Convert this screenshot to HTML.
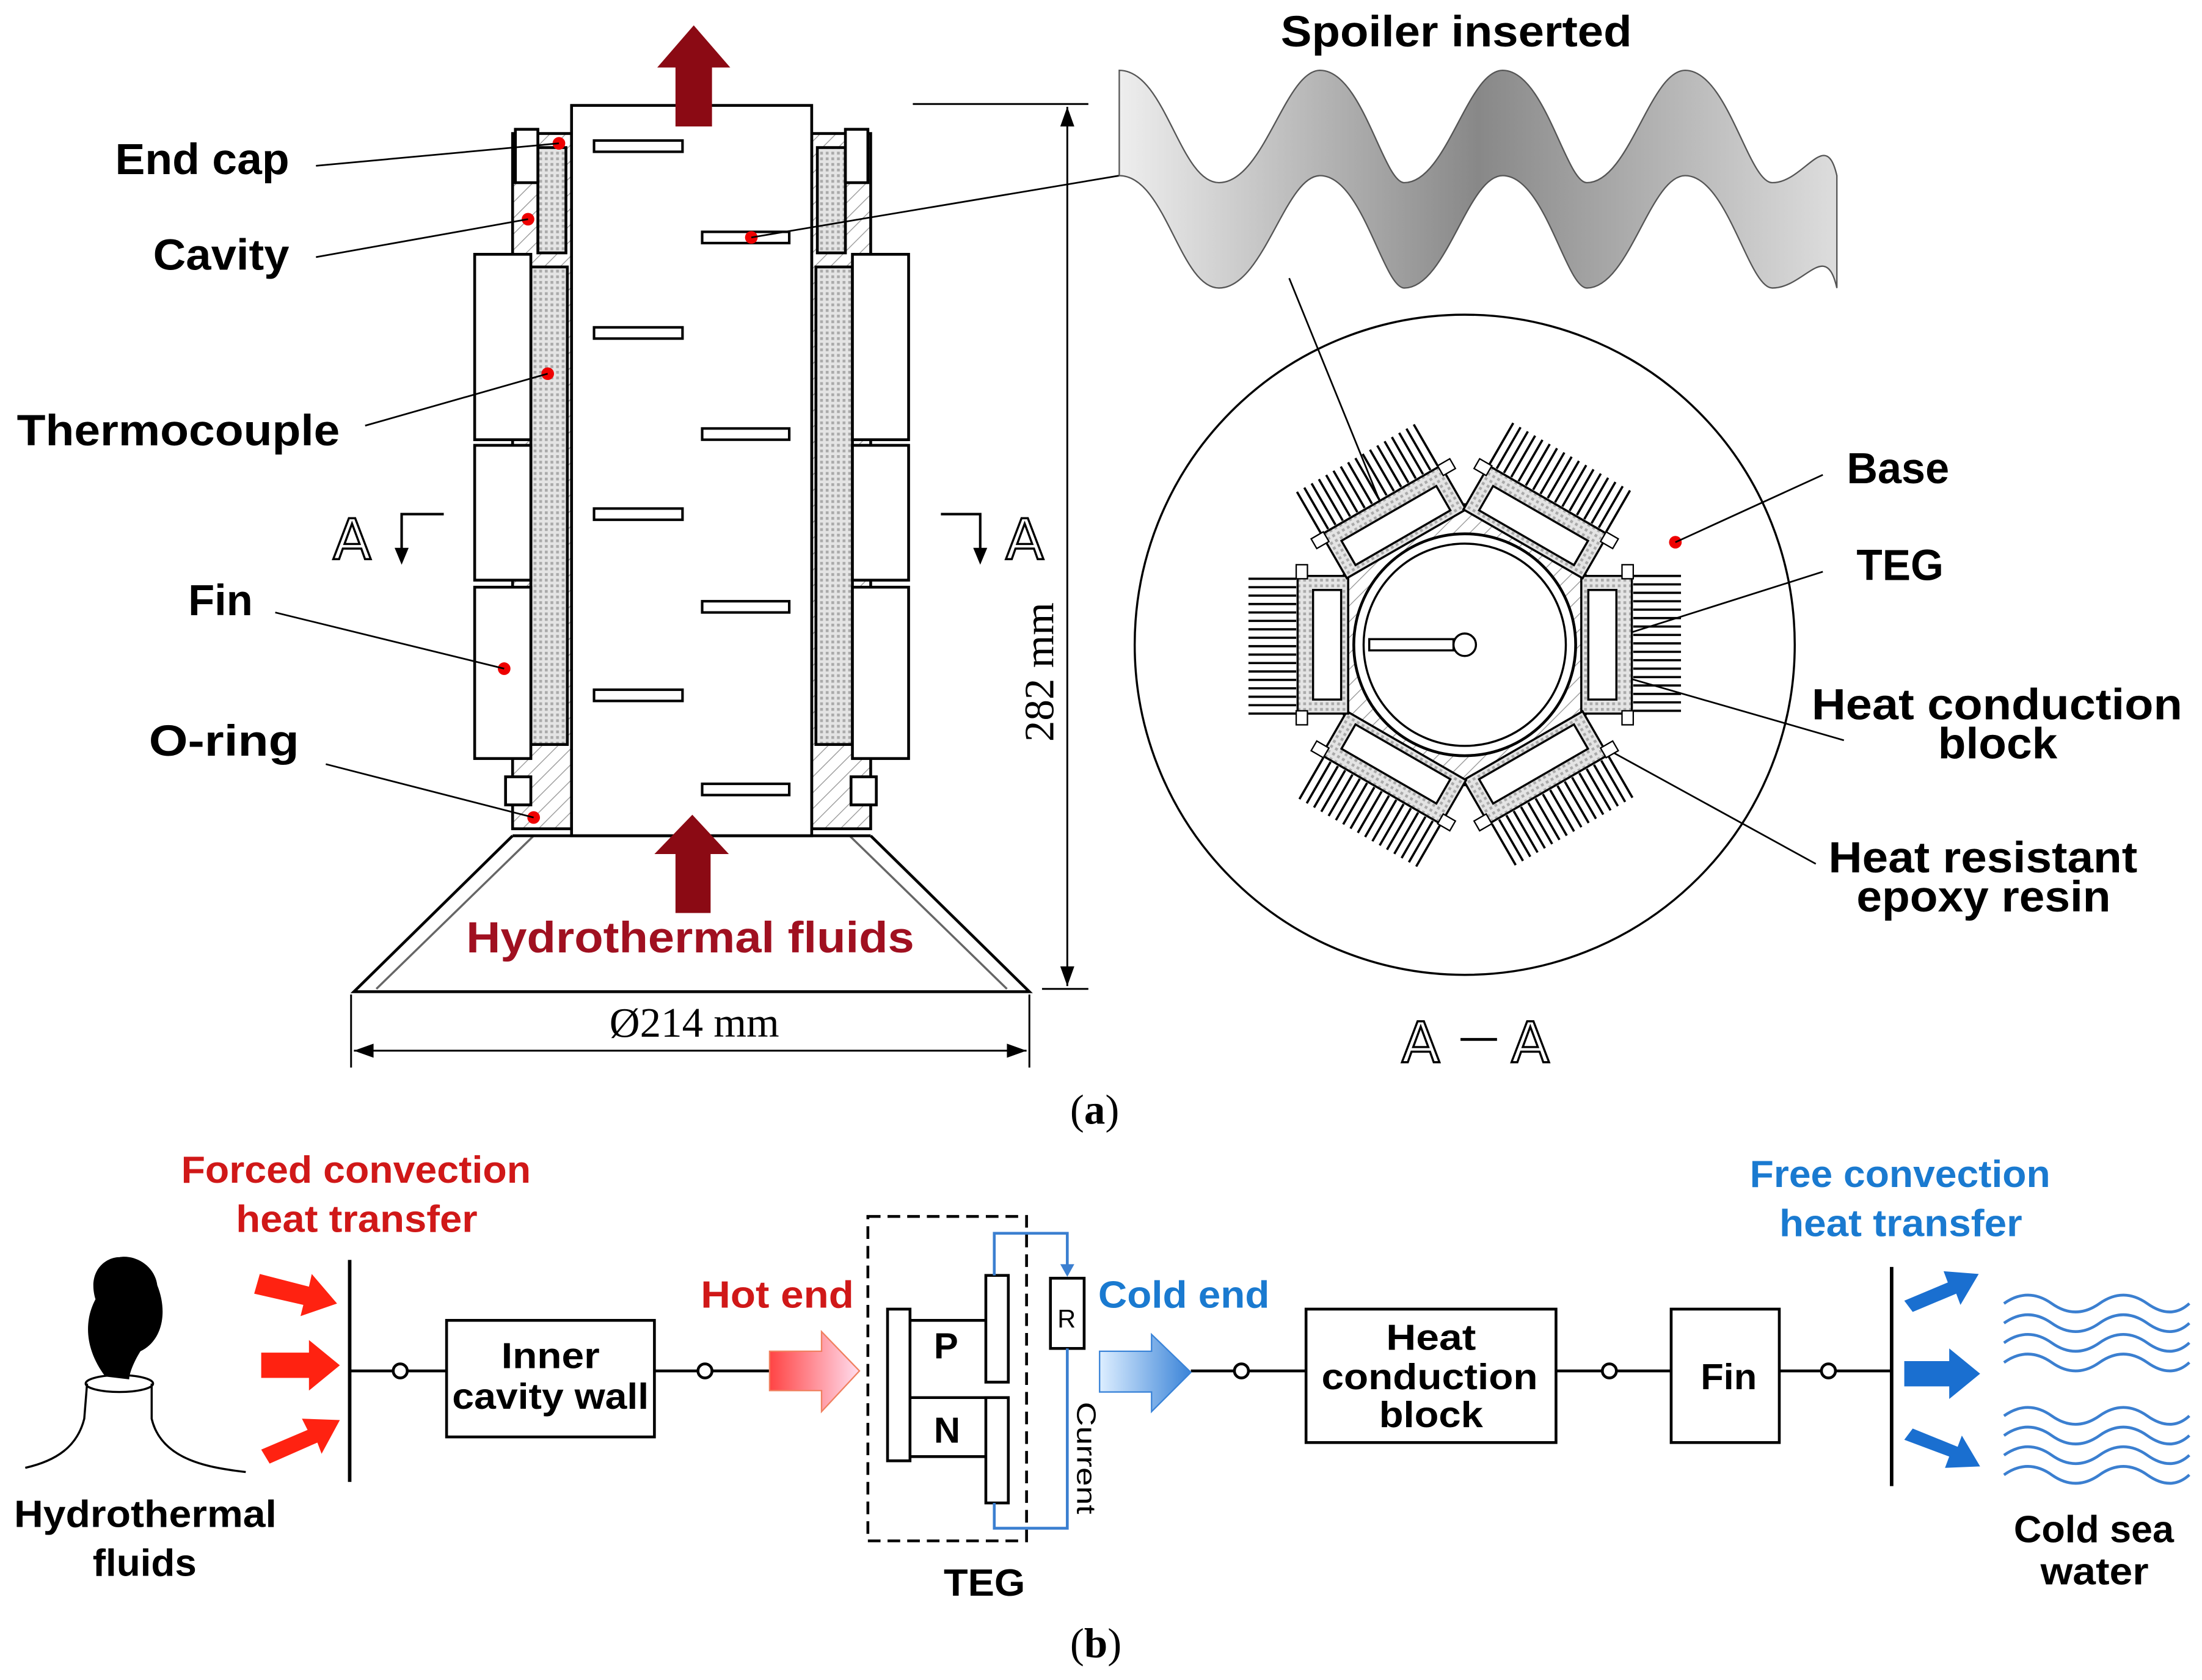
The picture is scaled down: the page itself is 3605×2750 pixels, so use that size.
<!DOCTYPE html>
<html><head><meta charset="utf-8"><style>html,body{margin:0;padding:0;background:#fff}svg{display:block}</style></head>
<body>
<svg width="3605" height="2750" viewBox="0 0 1568 1196" xmlns="http://www.w3.org/2000/svg" font-family="Liberation Sans, sans-serif">
<defs>
<pattern id="hatch" width="8" height="8" patternUnits="userSpaceOnUse" patternTransform="rotate(45)"><rect width="8" height="8" fill="#fff"/><line x1="0" y1="0" x2="0" y2="8" stroke="#999" stroke-width="1.2"/></pattern>
<pattern id="dots" width="4" height="4" patternUnits="userSpaceOnUse"><rect width="4" height="4" fill="#e4e4e4"/><rect width="2" height="2" fill="#aaa"/></pattern>
<linearGradient id="hot" x1="0" x2="1"><stop offset="0" stop-color="#f44"/><stop offset="1" stop-color="#fde"/></linearGradient>
<linearGradient id="cold" x1="0" x2="1"><stop offset="0" stop-color="#ddeeff"/><stop offset="1" stop-color="#3b84d8"/></linearGradient>
<linearGradient id="spo" x1="0" x2="1"><stop offset="0" stop-color="#eee"/><stop offset="0.5" stop-color="#888"/><stop offset="1" stop-color="#ddd"/></linearGradient>
</defs>

<g stroke="#000" stroke-width="2" fill="none">
<rect x="365" y="95" width="42" height="495" fill="url(#hatch)"/>
<rect x="578" y="95" width="42" height="495" fill="url(#hatch)"/>
<rect x="407" y="75" width="171" height="520" fill="#fff"/>
<rect x="383" y="105" width="20" height="75" fill="url(#dots)"/>
<rect x="582" y="105" width="20" height="75" fill="url(#dots)"/>
<rect x="378" y="190" width="26" height="340" fill="url(#dots)"/>
<rect x="581" y="190" width="26" height="340" fill="url(#dots)"/>
<rect x="338" y="181" width="40" height="132" fill="#fff"/>
<rect x="338" y="317" width="40" height="96" fill="#fff"/>
<rect x="338" y="418" width="40" height="122" fill="#fff"/>
<rect x="607" y="181" width="40" height="132" fill="#fff"/>
<rect x="607" y="317" width="40" height="96" fill="#fff"/>
<rect x="607" y="418" width="40" height="122" fill="#fff"/>
<rect x="367" y="92" width="16" height="38" fill="#fff"/>
<rect x="602" y="92" width="16" height="38" fill="#fff"/>
<rect x="360" y="553" width="18" height="20" fill="#fff"/>
<rect x="606" y="553" width="18" height="20" fill="#fff"/>
<g stroke-width="1.8">
<rect x="423" y="100" width="63" height="8"/><rect x="423" y="233" width="63" height="8"/><rect x="423" y="362" width="63" height="8"/><rect x="423" y="491" width="63" height="8"/>
<rect x="500" y="165" width="62" height="8"/><rect x="500" y="305" width="62" height="8"/><rect x="500" y="428" width="62" height="8"/><rect x="500" y="558" width="62" height="8"/>
</g>
<path d="M365 595 L252 706 L733 706 L620 595" stroke-width="2"/>
<path d="M380 595 L268 704 M605 595 L717 704" stroke="#666" stroke-width="1.5"/>
<line x1="365" y1="595" x2="620" y2="595"/>
</g>
<path d="M481 90 V48 H468 L494 18 L520 48 H507 V90 Z" fill="#8b0a14"/>
<path d="M481 650 V608 H466 L493 580 L519 608 H506 V650 Z" fill="#8b0a14"/>
<g fill="#e00"><circle cx="398" cy="102" r="4.5"/><circle cx="376" cy="156" r="4.5"/><circle cx="390" cy="266" r="4.5"/><circle cx="359" cy="476" r="4.5"/><circle cx="380" cy="582" r="4.5"/><circle cx="535" cy="169" r="4.5"/>
<circle cx="1193" cy="386" r="4.5"/><circle cx="1137" cy="458" r="4.5"/><circle cx="1150" cy="480" r="4.5"/><circle cx="1131" cy="526" r="4.5"/><circle cx="1009" cy="422" r="4.5"/></g>
<g stroke="#000" stroke-width="1.2">
<line x1="225" y1="118" x2="398" y2="102"/><line x1="225" y1="183" x2="376" y2="156"/><line x1="260" y1="303" x2="390" y2="266"/><line x1="196" y1="436" x2="359" y2="476"/><line x1="232" y1="544" x2="380" y2="582"/>
<line x1="535" y1="169" x2="797" y2="125"/><line x1="918" y1="198" x2="1009" y2="422"/>
<line x1="1193" y1="386" x2="1298" y2="338"/><line x1="1137" y1="458" x2="1298" y2="407"/><line x1="1150" y1="480" x2="1313" y2="527"/><line x1="1131" y1="526" x2="1293" y2="615"/>
</g>
<g font-size="31" fill="#000" font-weight="bold" lengthAdjust="spacingAndGlyphs">
<text x="82" y="124" textLength="124" lengthAdjust="spacingAndGlyphs">End cap</text><text x="109" y="192" textLength="97" lengthAdjust="spacingAndGlyphs">Cavity</text><text x="12" y="317" textLength="230" lengthAdjust="spacingAndGlyphs">Thermocouple</text><text x="134" y="438" textLength="46" lengthAdjust="spacingAndGlyphs">Fin</text><text x="106" y="538" textLength="107" lengthAdjust="spacingAndGlyphs">O-ring</text>
<text x="912" y="33" textLength="250" lengthAdjust="spacingAndGlyphs">Spoiler inserted</text>
<text x="1315" y="344" textLength="73" lengthAdjust="spacingAndGlyphs">Base</text><text x="1322" y="413" textLength="62" lengthAdjust="spacingAndGlyphs">TEG</text>
<text x="1290" y="512" textLength="264" lengthAdjust="spacingAndGlyphs">Heat conduction</text><text x="1380" y="540" textLength="85" lengthAdjust="spacingAndGlyphs">block</text>
<text x="1302" y="621" textLength="220" lengthAdjust="spacingAndGlyphs">Heat resistant</text><text x="1322" y="649" textLength="181" lengthAdjust="spacingAndGlyphs">epoxy resin</text>
<text x="332" y="678" fill="#a01020" textLength="319" lengthAdjust="spacingAndGlyphs">Hydrothermal fluids</text>
</g>
<g font-size="40"><text x="237" y="398" font-family="DejaVu Sans" fill="none" stroke="#000" stroke-width="1.5">A</text><text x="716" y="398" font-family="DejaVu Sans" fill="none" stroke="#000" stroke-width="1.5">A</text>
<text x="998" y="756" font-family="DejaVu Sans" fill="none" stroke="#000" stroke-width="1.5">A</text><text x="1076" y="756" font-family="DejaVu Sans" fill="none" stroke="#000" stroke-width="1.5">A</text></g>
<line x1="1040" y1="740" x2="1066" y2="740" stroke="#000" stroke-width="2"/>
<g stroke="#000" stroke-width="1.8" fill="none"><path d="M316 366 H286 V392"/><path d="M670 366 H698 V392"/></g>
<path d="M281 390 L291 390 L286 402Z M693 390 L703 390 L698 402Z"/>
<g stroke="#000" stroke-width="1.3"><line x1="650" y1="74" x2="775" y2="74"/><line x1="742" y1="704" x2="775" y2="704"/><line x1="760" y1="76" x2="760" y2="702"/>
<line x1="250" y1="708" x2="250" y2="760"/><line x1="733" y1="708" x2="733" y2="760"/><line x1="252" y1="748" x2="731" y2="748"/></g>
<path d="M760 76 l-5 14 h10z M760 702 l-5 -14 h10z M252 748 l14 -5 v10z M731 748 l-14 -5 v10z"/>
<text x="0" y="0" font-family="Liberation Serif, serif" font-size="30" transform="translate(750 528) rotate(-90)">282 mm</text>
<text x="434" y="738" font-family="Liberation Serif, serif" font-size="30">Ø214 mm</text>
<text x="762" y="800" font-family="Liberation Serif, serif" font-size="30">(<tspan font-weight="bold">a</tspan>)</text>
<text x="762" y="1180" font-family="Liberation Serif, serif" font-size="30">(<tspan font-weight="bold">b</tspan>)</text>
<path d="M797 50 C830 50 840 130 868 130 C900 130 915 50 940 50 C970 50 985 130 1000 130 C1030 130 1045 50 1070 50 C1100 50 1115 130 1130 130 C1160 130 1175 50 1200 50 C1230 50 1245 130 1262 130 C1285 130 1300 90 1308 125 L1308 205 C1300 170 1285 205 1262 205 C1245 205 1230 125 1200 125 C1175 125 1160 205 1130 205 C1115 205 1100 125 1070 125 C1045 125 1030 205 1000 205 C985 205 970 125 940 125 C915 125 900 205 868 205 C840 205 830 125 797 125 Z" fill="url(#spo)" stroke="#555" stroke-width="1"/>
<circle cx="1043" cy="459" r="235" fill="none" stroke="#000" stroke-width="1.5"/>
<polygon points="1158,459 1100,559 986,559 928,459 986,359 1100,359" fill="url(#hatch)" stroke="#000" stroke-width="1.5"/>
<g id="mod">
<g stroke="#000" stroke-width="1.6">
<line x1="1163" y1="410" x2="1197" y2="410"/><line x1="1163" y1="416" x2="1197" y2="416"/><line x1="1163" y1="422" x2="1197" y2="422"/><line x1="1163" y1="428" x2="1197" y2="428"/><line x1="1163" y1="434" x2="1197" y2="434"/><line x1="1163" y1="440" x2="1197" y2="440"/><line x1="1163" y1="446" x2="1197" y2="446"/><line x1="1163" y1="452" x2="1197" y2="452"/><line x1="1163" y1="458" x2="1197" y2="458"/><line x1="1163" y1="464" x2="1197" y2="464"/><line x1="1163" y1="470" x2="1197" y2="470"/><line x1="1163" y1="476" x2="1197" y2="476"/><line x1="1163" y1="482" x2="1197" y2="482"/><line x1="1163" y1="488" x2="1197" y2="488"/><line x1="1163" y1="494" x2="1197" y2="494"/><line x1="1163" y1="500" x2="1197" y2="500"/><line x1="1163" y1="506" x2="1197" y2="506"/>
</g>
<rect x="1126" y="410" width="36" height="98" fill="url(#dots)" stroke="#000" stroke-width="1.5"/>
<rect x="1131" y="420" width="20" height="78" fill="#fff" stroke="#000" stroke-width="1.5"/>
<rect x="1155" y="402" width="8" height="10" fill="#fff" stroke="#000"/><rect x="1155" y="506" width="8" height="10" fill="#fff" stroke="#000"/>
</g>
<use href="#mod" transform="rotate(60 1043 459)"/><use href="#mod" transform="rotate(120 1043 459)"/><use href="#mod" transform="rotate(180 1043 459)"/><use href="#mod" transform="rotate(240 1043 459)"/><use href="#mod" transform="rotate(300 1043 459)"/>
<circle cx="1043" cy="459" r="79" fill="#fff" stroke="#000" stroke-width="2"/>
<circle cx="1043" cy="459" r="72" fill="#fff" stroke="#000" stroke-width="1.5"/>
<rect x="975" y="455" width="60" height="8" fill="#fff" stroke="#000" stroke-width="1.5"/>
<circle cx="1043" cy="459" r="8" fill="#fff" stroke="#000" stroke-width="1.5"/>

<g font-size="27" font-weight="bold">
<text x="129" y="842" fill="#d01818" textLength="249" lengthAdjust="spacingAndGlyphs">Forced convection</text><text x="168" y="877" fill="#d01818" textLength="172" lengthAdjust="spacingAndGlyphs">heat transfer</text>
<text x="499" y="931" fill="#d01818" textLength="109" lengthAdjust="spacingAndGlyphs">Hot end</text>
<text x="782" y="931" fill="#1a7ad0" textLength="122" lengthAdjust="spacingAndGlyphs">Cold end</text>
<text x="1246" y="845" fill="#1a7ad0" textLength="214" lengthAdjust="spacingAndGlyphs">Free convection</text><text x="1267" y="880" fill="#1a7ad0" textLength="173" lengthAdjust="spacingAndGlyphs">heat transfer</text>
<text x="10" y="1087" textLength="187" lengthAdjust="spacingAndGlyphs">Hydrothermal</text><text x="66" y="1122" textLength="74" lengthAdjust="spacingAndGlyphs">fluids</text>
<text x="1434" y="1098" textLength="114" lengthAdjust="spacingAndGlyphs">Cold sea</text><text x="1453" y="1128" textLength="77" lengthAdjust="spacingAndGlyphs">water</text>
<text x="672" y="1136" textLength="58" lengthAdjust="spacingAndGlyphs">TEG</text>
</g>
<g stroke="#000" stroke-width="2" fill="#fff">
<line x1="249" y1="976" x2="318" y2="976"/><line x1="466" y1="976" x2="548" y2="976"/><line x1="848" y1="976" x2="930" y2="976"/><line x1="1108" y1="976" x2="1190" y2="976"/><line x1="1267" y1="976" x2="1347" y2="976"/>
<line x1="249" y1="897" x2="249" y2="1055" stroke-width="2.5"/><line x1="1347" y1="902" x2="1347" y2="1058" stroke-width="2.5"/>
<rect x="318" y="940" width="148" height="83"/><rect x="930" y="932" width="178" height="95"/><rect x="1190" y="932" width="77" height="95"/>
<circle cx="285" cy="976" r="5"/><circle cx="502" cy="976" r="5"/><circle cx="884" cy="976" r="5"/><circle cx="1146" cy="976" r="5"/><circle cx="1302" cy="976" r="5"/>
<rect x="618" y="866" width="113" height="231" fill="none" stroke-dasharray="9 5"/>
<rect x="632" y="932" width="16" height="108"/><rect x="702" y="908" width="16" height="76"/><rect x="702" y="995" width="16" height="75"/>
<line x1="648" y1="940" x2="702" y2="940"/><line x1="648" y1="995" x2="702" y2="995"/><line x1="648" y1="1037" x2="702" y2="1037"/>
<rect x="748" y="910" width="24" height="50"/>
</g>
<g stroke="#3b7fd0" stroke-width="2" fill="none"><path d="M708 908 V878 H760 V906"/><path d="M760 960 V1088 H708 V1070"/></g>
<path d="M755 900 h10 l-5 9z" fill="#3b7fd0"/>
<g font-size="26" font-weight="bold"><text x="357" y="974" textLength="70" lengthAdjust="spacingAndGlyphs">Inner</text><text x="322" y="1003" textLength="140" lengthAdjust="spacingAndGlyphs">cavity wall</text>
<text x="987" y="961" textLength="64" lengthAdjust="spacingAndGlyphs">Heat</text><text x="941" y="989" textLength="154" lengthAdjust="spacingAndGlyphs">conduction</text><text x="982" y="1016" textLength="74" lengthAdjust="spacingAndGlyphs">block</text>
<text x="1211" y="989" textLength="40" lengthAdjust="spacingAndGlyphs">Fin</text><text x="665" y="967">P</text><text x="665" y="1027">N</text></g>
<text x="753" y="945" font-size="18">R</text>
<text font-size="19" transform="translate(767 998) rotate(90)" textLength="80" lengthAdjust="spacingAndGlyphs">Current</text>
<path d="M548 962 H585 V948 L612 976 L585 1005 V990 H548 Z" fill="url(#hot)" stroke="#f08060" stroke-width="1"/>
<path d="M783 962 H820 V950 L848 977 L820 1005 V991 H783 Z" fill="url(#cold)" stroke="#3b84d8" stroke-width="1"/>
<g fill="#f21"><path d="M185 907 l35 9 l2 -9 l18 21 l-26 9 l2 -8 l-35 -8z"/><path d="M186 963 h34 v-9 l22 18 l-22 18 v-9 h-34z"/><path d="M186 1032 l33 -14 l-4 -8 l27 1 l-13 24 l-3 -8 l-34 15z"/></g>
<g fill="#1a6fd0"><path d="M1356 926 l31 -13 l-3 -8 l25 2 l-13 22 l-3 -8 l-31 13z"/><path d="M1356 969 h32 v-9 l22 18 l-22 18 v-9 h-32z"/><path d="M1356 1025 l32 12 l-3 8 l25 -1 l-13 -22 l-3 8 l-32 -13z"/></g>
<g stroke="#3b7fd0" stroke-width="2" fill="none">
<path d="M1427 928 q17 -12 34 0 t34 0 t34 0 t30 0"/><path d="M1427 942 q17 -12 34 0 t34 0 t34 0 t30 0"/><path d="M1427 956 q17 -12 34 0 t34 0 t34 0 t30 0"/><path d="M1427 970 q17 -12 34 0 t34 0 t34 0 t30 0"/>
<path d="M1427 1008 q17 -12 34 0 t34 0 t34 0 t30 0"/><path d="M1427 1022 q17 -12 34 0 t34 0 t34 0 t30 0"/><path d="M1427 1036 q17 -12 34 0 t34 0 t34 0 t30 0"/><path d="M1427 1050 q17 -12 34 0 t34 0 t34 0 t30 0"/>
</g>
<path d="M18 1045 C40 1040 55 1030 60 1010 L62 985 M108 985 L108 1010 C115 1040 150 1045 175 1048" stroke="#000" stroke-width="1.5" fill="none"/>
<ellipse cx="85" cy="985" rx="24" ry="6" fill="none" stroke="#000" stroke-width="1.5"/>
<path d="M75 980 C60 960 60 940 68 925 C62 905 75 895 85 895 C95 893 110 900 112 915 C120 935 115 955 100 962 C95 970 92 978 92 982 Z" fill="#000"/>
</svg>
</body></html>
